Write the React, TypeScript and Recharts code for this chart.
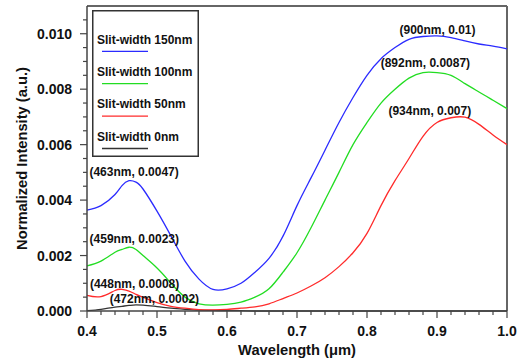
import React from 'react';
import { LineChart, Line, XAxis, YAxis, ReferenceLine, ReferenceDot, Legend } from 'recharts';

// wavelength in um
const WAVELENGTHS = [
  0.4, 0.42, 0.44, 0.45, 0.46, 0.47, 0.48, 0.5, 0.52, 0.54, 0.56, 0.58, 0.6, 0.62, 0.64, 0.66, 0.68,
  0.7, 0.72, 0.74, 0.76, 0.78, 0.8, 0.82, 0.84, 0.86, 0.88, 0.9, 0.92, 0.94, 0.96, 0.98, 1.0,
];

const SLIT_150 = [
  0.00364, 0.0038, 0.0042, 0.00452, 0.0047, 0.00465, 0.0044, 0.0036, 0.0027, 0.0018, 0.00115, 0.00078,
  0.0008, 0.001, 0.0014, 0.0019, 0.0027, 0.0038, 0.0048, 0.0058, 0.0068, 0.0077, 0.0085, 0.0091, 0.0095,
  0.0098, 0.0099, 0.00992, 0.00986, 0.00974, 0.00963, 0.00955, 0.00945,
];

const SLIT_100 = [
  0.00163, 0.0018, 0.00212, 0.00222, 0.0023, 0.00222, 0.002, 0.00155, 0.001, 0.0005, 0.00026, 0.00021,
  0.00024, 0.00032, 0.0005, 0.0008, 0.0014, 0.0021, 0.003, 0.004, 0.005, 0.006, 0.0068, 0.0075,
  0.008, 0.0084, 0.0086, 0.0086, 0.0085, 0.0082, 0.0079, 0.0076, 0.0073,
];

const SLIT_50 = [
  0.00056, 0.00052, 0.00074, 0.00078, 0.00072, 0.0006, 0.0005, 0.0003, 0.00017, 0.0001, 0.00005, 0.00004,
  0.00006, 0.0001, 0.00015, 0.00026, 0.00045, 0.00065, 0.0009, 0.0012, 0.0016, 0.0021, 0.0028, 0.0038,
  0.0047, 0.0055, 0.0063, 0.0068, 0.00697, 0.00699, 0.00673, 0.00635, 0.006,
];

const SLIT_0 = [
  0.00001, 0.00006, 0.00014, 0.00017, 0.0002, 0.00022, 0.00021, 0.00016, 0.0001, 0.00006, 0.00003, 0.00002,
  0.00001, 0.00001, 0, 0, 0, 0, 0, 0, 0, 0, 0, 0, 0, 0, 0, 0, 0, 0, 0, 0, 0,
];

const X_MAJOR_TICKS = [0.4, 0.5, 0.6, 0.7, 0.8, 0.9, 1.0];
const X_MINOR_TICKS = [
  0.42, 0.44, 0.46, 0.48, 0.52, 0.54, 0.56, 0.58, 0.62, 0.64, 0.66, 0.68, 0.72, 0.74, 0.76, 0.78,
  0.82, 0.84, 0.86, 0.88, 0.92, 0.94, 0.96, 0.98,
];
const Y_MAJOR_TICKS = [0, 0.002, 0.004, 0.006, 0.008, 0.01];
const Y_MINOR_TICKS = [
  0.0005, 0.001, 0.0015, 0.0025, 0.003, 0.0035, 0.0045, 0.005, 0.0055, 0.0065, 0.007, 0.0075,
  0.0085, 0.009, 0.0095, 0.0105,
];

const PEAK_TEXT = [
  '(463nm, 0.0047)', '(459nm, 0.0023)', '(448nm, 0.0008)', '(472nm, 0.0002)',
  '(900nm, 0.01)', '(892nm, 0.0087)', '(934nm, 0.007)',
];
const PEAK_X = [0.463, 0.459, 0.448, 0.472, 0.9, 0.892, 0.934];
const PEAK_Y = [0.0047, 0.0023, 0.0008, 0.0002, 0.01, 0.0087, 0.007];

// label offsets from the peak point, px
const PEAK_OFFSETS = [[3, -4.5], [6, -4.5], [14, -1], [17, -2], [0.5, 0.5], [-6, -2.3], [-31, -2]];

const FONT = '"Liberation Sans", Arial, sans-serif';
const AXIS_COLOR = '#444';

const SERIES = [
  { key: 's150', name: 'Slit-width 150nm', color: '#2b2bff', values: SLIT_150, curve: 'natural' },
  { key: 's100', name: 'Slit-width 100nm', color: '#22dd22', values: SLIT_100, curve: 'natural' },
  { key: 's50', name: 'Slit-width 50nm', color: '#ff2b2b', values: SLIT_50, curve: 'natural' },
  { key: 's0', name: 'Slit-width 0nm', color: '#333333', values: SLIT_0, curve: 'monotone' },
];

const data = WAVELENGTHS.map((wl, i) => {
  const row: Record<string, number> = { wl };
  SERIES.forEach(s => { row[s.key] = s.values[i]; });
  return row;
});

const isIn = (list: number[], v: number) => list.some(t => Math.abs(t - v) < 1e-9);

const XTick = (props: any) => {
  const { x, y, payload } = props;
  const major = isIn(X_MAJOR_TICKS, payload.value);
  return (
    <g>
      <line x1={x} x2={x} y1={y} y2={y + (major ? 7 : 4)} stroke={AXIS_COLOR} strokeWidth={1.2} />
      {major && (
        <text x={x} y={y + 25} textAnchor="middle" fontFamily={FONT} fontSize={14} fontWeight="bold" fill="#111">
          {payload.value.toFixed(1)}
        </text>
      )}
    </g>
  );
};

const YTick = (props: any) => {
  const { x, y, payload } = props;
  const major = isIn(Y_MAJOR_TICKS, payload.value);
  return (
    <g>
      <line x1={x} x2={x - (major ? 7 : 4)} y1={y} y2={y} stroke={AXIS_COLOR} strokeWidth={1.2} />
      {major && (
        <text x={x - 15} y={y + 5} textAnchor="end" fontFamily={FONT} fontSize={14} fontWeight="bold" fill="#111">
          {payload.value.toFixed(3)}
        </text>
      )}
    </g>
  );
};

const peakLabel = (text: string, dx: number, dy: number) => (props: any) => {
  const vb = props.viewBox;
  const cx = vb.x + (vb.width || 0) / 2;
  const cy = vb.y + (vb.height || 0) / 2;
  return (
    <text x={cx + dx} y={cy + dy} textAnchor="middle" fontFamily={FONT} fontSize={12} fontWeight="bold" fill="#111">
      {text}
    </text>
  );
};

const LegendBox = () => (
  <svg width={108} height={148} style={{ display: 'block' }}>
    <rect x={0.75} y={0.75} width={105.5} height={145.5} fill="#fff" stroke="#333" strokeWidth={1.5} />
    {SERIES.map((s, i) => (
      <g key={s.key}>
        <text x={5} y={34 + i * 32.2} fontFamily={FONT} fontSize={12} fontWeight="bold" fill="#111">
          {s.name}
        </text>
        <line x1={10} x2={56} y1={41.3 + i * 32.4} y2={41.3 + i * 32.4} stroke={s.color} strokeWidth={1.3} />
      </g>
    ))}
  </svg>
);

export default function App() {
  const drawOrder = [...SERIES].reverse();
  return (
    <div style={{ position: 'absolute', left: 0, top: 0, background: '#fff' }}>
      <LineChart width={523} height={361} data={data} margin={{ top: 6, right: 16, left: 0, bottom: 0 }}>
        <XAxis
          dataKey="wl"
          type="number"
          domain={[0.4, 1.0]}
          ticks={[...X_MAJOR_TICKS, ...X_MINOR_TICKS].sort((a, b) => a - b)}
          tick={<XTick />}
          tickLine={false}
          tickSize={0}
          tickMargin={0}
          height={50}
          stroke={AXIS_COLOR}
          strokeWidth={1.5}
          interval={0}
          label={(p: any) => (
            <text
              x={p.viewBox.x + p.viewBox.width / 2}
              y={355}
              textAnchor="middle"
              fontFamily={FONT}
              fontSize={14.7}
              fontWeight="bold"
              fill="#111"
            >
              Wavelength (μm)
            </text>
          )}
        />
        <YAxis
          type="number"
          domain={[0, 0.011]}
          ticks={[...Y_MAJOR_TICKS, ...Y_MINOR_TICKS].sort((a, b) => a - b)}
          tick={<YTick />}
          tickLine={false}
          tickSize={0}
          tickMargin={0}
          width={87}
          stroke={AXIS_COLOR}
          strokeWidth={1.5}
          interval={0}
          label={(p: any) => {
            const cy = p.viewBox.y + p.viewBox.height / 2;
            return (
              <text
                x={27}
                y={cy}
                transform={`rotate(-90, 27, ${cy})`}
                textAnchor="middle"
                fontFamily={FONT}
                fontSize={14.7}
                fontWeight="bold"
                fill="#111"
              >
                Normalized Intensity (a.u.)
              </text>
            );
          }}
        />
        <ReferenceLine y={0.011} stroke="#666" strokeWidth={2} ifOverflow="visible" />
        <ReferenceLine x={1.0} stroke="#666" strokeWidth={2} ifOverflow="visible" />
        {drawOrder.map(s => (
          <Line
            key={s.key}
            type={s.curve as any}
            dataKey={s.key}
            name={s.name}
            stroke={s.color}
            strokeWidth={1.3}
            dot={false}
            isAnimationActive={false}
          />
        ))}
        {PEAK_TEXT.map((t, i) => (
          <ReferenceDot
            key={t}
            x={PEAK_X[i]}
            y={PEAK_Y[i]}
            r={0}
            fill="none"
            stroke="none"
            ifOverflow="visible"
            label={peakLabel(t, PEAK_OFFSETS[i][0], PEAK_OFFSETS[i][1])}
          />
        ))}
        <Legend
          layout="vertical"
          align="center"
          verticalAlign="middle"
          content={() => <LegendBox />}
          wrapperStyle={{ left: 92, top: 10, width: 108, height: 148 }}
        />
      </LineChart>
    </div>
  );
}
